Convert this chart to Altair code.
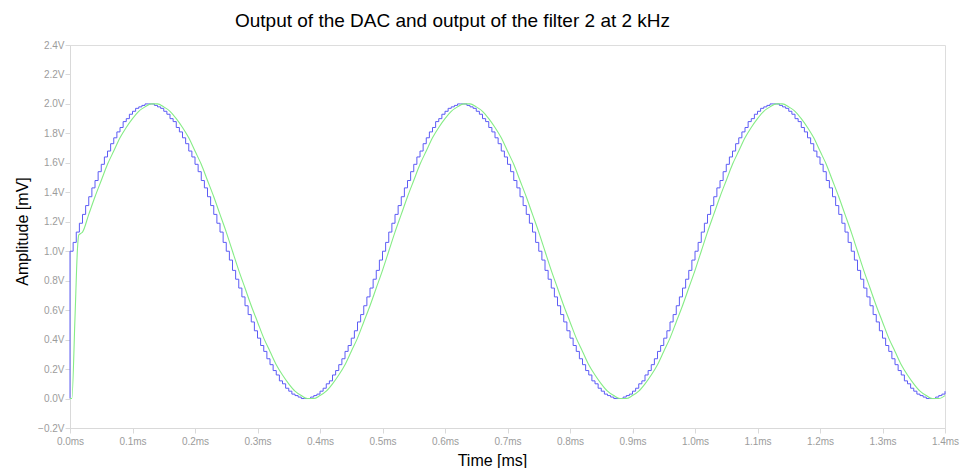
import altair as alt
import pandas as pd

# DAC output (staircase), sample period 0.005 ms, first point is the start-up level
dac_step_ms = 0.005
dac_values = [
    1.00, 1.06, 1.13, 1.19, 1.25, 1.31, 1.37, 1.43, 1.48, 1.54, 1.59, 1.64, 1.68, 1.73, 1.77, 1.81, 1.84, 1.88, 1.90, 1.93,
    1.95, 1.97, 1.98, 1.99, 2.00, 2.00, 2.00, 1.99, 1.98, 1.97, 1.95, 1.93, 1.90, 1.88, 1.84, 1.81, 1.77, 1.73, 1.68, 1.64,
    1.59, 1.54, 1.48, 1.43, 1.37, 1.31, 1.25, 1.19, 1.13, 1.06, 1.00, 0.94, 0.87, 0.81, 0.75, 0.69, 0.63, 0.57, 0.52, 0.46,
    0.41, 0.36, 0.32, 0.27, 0.23, 0.19, 0.16, 0.12, 0.10, 0.07, 0.05, 0.03, 0.02, 0.01, 0.00, 0.00, 0.00, 0.01, 0.02, 0.03,
    0.05, 0.07, 0.10, 0.12, 0.16, 0.19, 0.23, 0.27, 0.32, 0.36, 0.41, 0.46, 0.52, 0.57, 0.63, 0.69, 0.75, 0.81, 0.87, 0.94,
    1.00, 1.06, 1.13, 1.19, 1.25, 1.31, 1.37, 1.43, 1.48, 1.54, 1.59, 1.64, 1.68, 1.73, 1.77, 1.81, 1.84, 1.88, 1.90, 1.93,
    1.95, 1.97, 1.98, 1.99, 2.00, 2.00, 2.00, 1.99, 1.98, 1.97, 1.95, 1.93, 1.90, 1.88, 1.84, 1.81, 1.77, 1.73, 1.68, 1.64,
    1.59, 1.54, 1.48, 1.43, 1.37, 1.31, 1.25, 1.19, 1.13, 1.06, 1.00, 0.94, 0.87, 0.81, 0.75, 0.69, 0.63, 0.57, 0.52, 0.46,
    0.41, 0.36, 0.32, 0.27, 0.23, 0.19, 0.16, 0.12, 0.10, 0.07, 0.05, 0.03, 0.02, 0.01, 0.00, 0.00, 0.00, 0.01, 0.02, 0.03,
    0.05, 0.07, 0.10, 0.12, 0.16, 0.19, 0.23, 0.27, 0.32, 0.36, 0.41, 0.46, 0.52, 0.57, 0.63, 0.69, 0.75, 0.81, 0.87, 0.94,
    1.00, 1.06, 1.13, 1.19, 1.25, 1.31, 1.37, 1.43, 1.48, 1.54, 1.59, 1.64, 1.68, 1.73, 1.77, 1.81, 1.84, 1.88, 1.90, 1.93,
    1.95, 1.97, 1.98, 1.99, 2.00, 2.00, 2.00, 1.99, 1.98, 1.97, 1.95, 1.93, 1.90, 1.88, 1.84, 1.81, 1.77, 1.73, 1.68, 1.64,
    1.59, 1.54, 1.48, 1.43, 1.37, 1.31, 1.25, 1.19, 1.13, 1.06, 1.00, 0.94, 0.87, 0.81, 0.75, 0.69, 0.63, 0.57, 0.52, 0.46,
    0.41, 0.36, 0.32, 0.27, 0.23, 0.19, 0.16, 0.12, 0.10, 0.07, 0.05, 0.03, 0.02, 0.01, 0.00, 0.00, 0.00, 0.01, 0.02, 0.03,
    0.05,
]

# Filter 2 output: start-up transient, then samples every 0.01 ms from 0.02 ms
filter_start_t = [0.000, 0.003, 0.008, 0.012, 0.014, 0.017]
filter_start_v = [0.00, 0.00, 0.55, 1.02, 1.11, 1.12]
filter_step_ms = 0.01
filter_first_t = 0.02
filter_values = [
    1.13, 1.25, 1.37, 1.48, 1.59, 1.68, 1.77, 1.84, 1.90, 1.95, 1.98, 2.00, 2.00, 1.98, 1.95, 1.90, 1.84, 1.77, 1.68, 1.59,
    1.48, 1.37, 1.25, 1.13, 1.00, 0.87, 0.75, 0.63, 0.52, 0.41, 0.32, 0.23, 0.16, 0.10, 0.05, 0.02, 0.00, 0.00, 0.02, 0.05,
    0.10, 0.16, 0.23, 0.32, 0.41, 0.52, 0.63, 0.75, 0.87, 1.00,
    1.13, 1.25, 1.37, 1.48, 1.59, 1.68, 1.77, 1.84, 1.90, 1.95, 1.98, 2.00, 2.00, 1.98, 1.95, 1.90, 1.84, 1.77, 1.68, 1.59,
    1.48, 1.37, 1.25, 1.13, 1.00, 0.87, 0.75, 0.63, 0.52, 0.41, 0.32, 0.23, 0.16, 0.10, 0.05, 0.02, 0.00, 0.00, 0.02, 0.05,
    0.10, 0.16, 0.23, 0.32, 0.41, 0.52, 0.63, 0.75, 0.87, 1.00,
    1.13, 1.25, 1.37, 1.48, 1.59, 1.68, 1.77, 1.84, 1.90, 1.95, 1.98, 2.00, 2.00, 1.98, 1.95, 1.90, 1.84, 1.77, 1.68, 1.59,
    1.48, 1.37, 1.25, 1.13, 1.00, 0.87, 0.75, 0.63, 0.52, 0.41, 0.32, 0.23, 0.16, 0.10, 0.05, 0.02, 0.00, 0.00, 0.02,
]

y_ticks = [-0.2, 0.0, 0.2, 0.4, 0.6, 0.8, 1.0, 1.2, 1.4, 1.6, 1.8, 2.0, 2.2, 2.4]
x_ticks = [0.0, 0.1, 0.2, 0.3, 0.4, 0.5, 0.6, 0.7, 0.8, 0.9, 1.0, 1.1, 1.2, 1.3, 1.4]

dac_t = [0.0] + [round(i * dac_step_ms, 4) for i in range(len(dac_values))]
dac_v = [0.0] + dac_values
dac_df = pd.DataFrame({"t": dac_t, "v": dac_v})

filt_t = filter_start_t + [round(filter_first_t + i * filter_step_ms, 4) for i in range(len(filter_values))]
filt_v = filter_start_v + filter_values
filt_df = pd.DataFrame({"t": filt_t, "v": filt_v})

x_enc = alt.X(
    "t:Q",
    scale=alt.Scale(domain=[0, 1.4], nice=False, zero=False),
    axis=alt.Axis(
        values=x_ticks,
        labelExpr="format(datum.value, '.1f') + 'ms'",
        labelFlush=False,
        labelPadding=3,
        title="Time [ms]",
        titleX=422,
        titleY=32,
        titleBaseline="middle",
    ),
)
y_enc = alt.Y(
    "v:Q",
    scale=alt.Scale(domain=[-0.2, 2.4], nice=False, zero=False),
    axis=alt.Axis(
        values=y_ticks,
        labelExpr="format(datum.value, '.1f') + 'V'",
        labelFlush=False,
        labelPadding=1,
        title="Amplitude [mV]",
        titleX=-48,
        titleY=186,
        titleAngle=-90,
        titleAlign="center",
        titleBaseline="middle",
    ),
)

filt_line = alt.Chart(filt_df).mark_line(
    color="#86ec86", strokeWidth=1.1, interpolate="monotone"
).encode(x=x_enc, y=y_enc)

dac_line = alt.Chart(dac_df).mark_line(
    color="#5c5cf5", strokeWidth=1.0, interpolate="step-after"
).encode(x=x_enc, y=y_enc)

chart = (
    alt.layer(dac_line, filt_line)
    .properties(
        width=875,
        height=383,
        autosize=alt.AutoSizeParams(type="none"),
        padding={"left": 70, "top": 45, "right": 20, "bottom": 40},
        title=alt.TitleParams(
            "Output of the DAC and output of the filter 2 at 2 kHz",
            fontSize=19,
            font="Liberation Sans",
            fontWeight="normal",
            color="#000000",
            anchor="middle",
            dx=-55,
            offset=9,
        ),
    )
    .configure_view(stroke="#dddddd", strokeWidth=1)
    .configure_axis(
        grid=False,
        domainColor="#d9d9d9",
        tickColor="#d9d9d9",
        tickSize=5,
        labelColor="#9c9c9c",
        labelFont="Liberation Sans",
        labelFontSize=10,
        titleFont="Liberation Sans",
        titleFontSize=16,
        titleFontWeight="normal",
        titleColor="#000000",
    )
)

chart.save("out.html", embed_options={"renderer": "svg", "actions": False})
